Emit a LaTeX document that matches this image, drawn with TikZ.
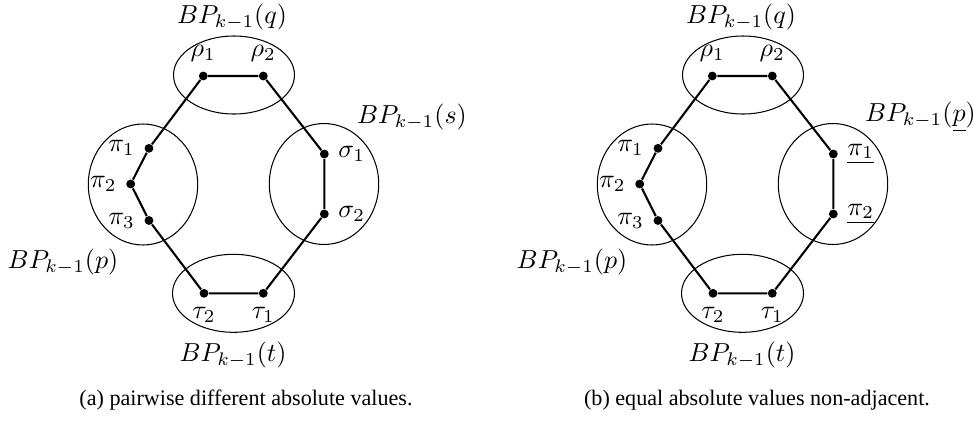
\documentclass[tikz,border=0pt]{standalone}
\usepackage{fontspec}
\setmainfont{Liberation Serif}
\usepackage{tikz}

\tikzset{
  vtx/.style={circle,fill=black,inner sep=0pt,minimum size=3.4pt},
  edge/.style={line width=0.8pt},
  grp/.style={line width=0.4pt},
  captext/.style={font=\fontsize{8.5}{10}\selectfont}
}

\begin{document}
\begin{tikzpicture}[x=0.0135cm,y=-0.0135cm]
\path[use as bounding box] (0,0) rectangle (975,424);
% (a) pairwise different
\draw[grp] (234,75) ellipse [x radius=60.5,y radius=39];
\draw[grp] (143,184.5) ellipse [x radius=54.7,y radius=60.5];
\draw[grp] (324,184) ellipse [x radius=54.7,y radius=60.5];
\draw[grp] (233.5,293.3) ellipse [x radius=61,y radius=39];
\node[vtx,label=above:$\rho_1$] (ar1) at (203.3,76) {};
\node[vtx,label=above:$\rho_2$] (ar2) at (263.3,76) {};
\node[vtx,label=left:$\pi_1$] (ap1) at (149,148.3) {};
\node[vtx,label=left:$\pi_2$] (ap2) at (130.7,184) {};
\node[vtx,label=left:$\pi_3$] (ap3) at (149,220.5) {};
\node[vtx,label=right:$\sigma_1$] (as1) at (324.3,154) {};
\node[vtx,label=right:$\sigma_2$] (as2) at (324.3,214) {};
\node[vtx,label=below:$\tau_2$] (at2) at (204,293.3) {};
\node[vtx,label=below:$\tau_1$] (at1) at (263.3,293.3) {};
\draw[edge] (ar1) -- (ar2) -- (as1) -- (as2) -- (at1) -- (at2) -- (ap3) -- (ap2) -- (ap1) -- (ar1);
\node (aq) at (232,17) {$BP_{k-1}(q)$};
\node[anchor=west] (as) at (348,117) {$BP_{k-1}(s)$};
\node (ap) at (63,262) {$BP_{k-1}(p)$};
\node (at) at (233,355) {$BP_{k-1}(t)$};
\node[captext] (capa) at (246,400) {(a) pairwise different absolute values.};
% (b) equal absolute values
\draw[grp] (743,75) ellipse [x radius=60.5,y radius=39];
\draw[grp] (652,184.5) ellipse [x radius=54.7,y radius=60.5];
\draw[grp] (833,184) ellipse [x radius=54.7,y radius=60.5];
\draw[grp] (742.5,293.3) ellipse [x radius=61,y radius=39];
\node[vtx,label=above:$\rho_1$] (br1) at (712.3,76) {};
\node[vtx,label=above:$\rho_2$] (br2) at (772.3,76) {};
\node[vtx,label=left:$\pi_1$] (bp1) at (658,148.3) {};
\node[vtx,label=left:$\pi_2$] (bp2) at (639.7,184) {};
\node[vtx,label=left:$\pi_3$] (bp3) at (658,220.5) {};
\node[vtx,label=right:$\underline{\pi_1}$] (bs1) at (833.3,154) {};
\node[vtx,label=right:$\underline{\pi_2}$] (bs2) at (833.3,214) {};
\node[vtx,label=below:$\tau_2$] (bt2) at (713,293.3) {};
\node[vtx,label=below:$\tau_1$] (bt1) at (772.3,293.3) {};
\draw[edge] (br1) -- (br2) -- (bs1) -- (bs2) -- (bt1) -- (bt2) -- (bp3) -- (bp2) -- (bp1) -- (br1);
\node (bq) at (741,17) {$BP_{k-1}(q)$};
\node[anchor=west] (bs) at (856,117) {$BP_{k-1}(\underline{p})$};
\node (bp) at (572,262) {$BP_{k-1}(p)$};
\node (bt) at (742,355) {$BP_{k-1}(t)$};
\node[captext] (capb) at (757,400) {(b) equal absolute values non-adjacent.};
\end{tikzpicture}
\end{document}
